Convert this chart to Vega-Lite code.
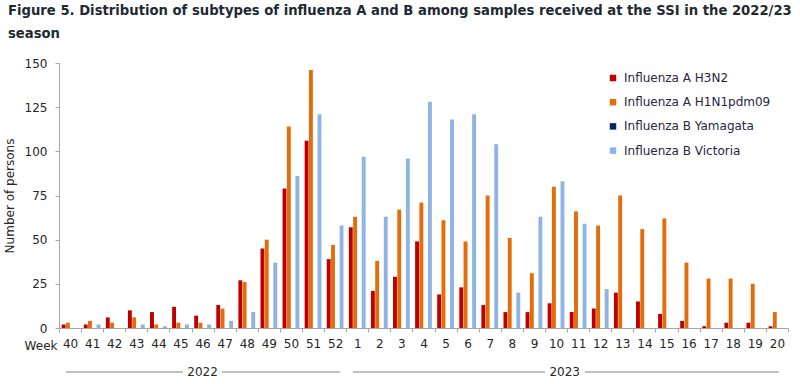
{
  "$schema": "https://vega.github.io/schema/vega-lite/v6.json",
  "width": 729,
  "height": 265,
  "autosize": {"type": "none"},
  "padding": {"left": 59, "top": 63, "right": 12, "bottom": 56},
  "background": "white",
  "title": {
    "text": ["Figure 5. Distribution of subtypes of influenza A and B among samples received at the SSI in the 2022/23", "season"],
    "anchor": "start",
    "frame": "group",
    "dx": -51,
    "font": "DejaVu Sans",
    "fontSize": 13.2,
    "fontWeight": "bold",
    "color": "#1f2a33",
    "lineHeight": 22.5,
    "offset": 16
  },
  "config": {
    "view": {"stroke": null},
    "font": "DejaVu Sans",
    "axis": {
      "labelFont": "DejaVu Sans",
      "titleFont": "DejaVu Sans",
      "labelFontSize": 12,
      "titleFontSize": 12,
      "labelColor": "#262626",
      "titleColor": "#262626",
      "titleFontWeight": "normal",
      "domainColor": "#a6a6a6",
      "tickColor": "#a6a6a6",
      "tickSize": 4,
      "grid": false
    },
    "legend": {
      "labelFont": "DejaVu Sans",
      "labelFontSize": 12,
      "labelColor": "#262640"
    }
  },
  "layer": [
    {
      "data": {"values": [
        {"week": "40", "Influenza A H3N2": 2, "Influenza A H1N1pdm09": 3, "Influenza B Yamagata": 0, "Influenza B Victoria": 0},
        {"week": "41", "Influenza A H3N2": 2, "Influenza A H1N1pdm09": 4, "Influenza B Yamagata": 0, "Influenza B Victoria": 2},
        {"week": "42", "Influenza A H3N2": 6, "Influenza A H1N1pdm09": 3, "Influenza B Yamagata": 0, "Influenza B Victoria": 0},
        {"week": "43", "Influenza A H3N2": 10, "Influenza A H1N1pdm09": 6, "Influenza B Yamagata": 0, "Influenza B Victoria": 2},
        {"week": "44", "Influenza A H3N2": 9, "Influenza A H1N1pdm09": 2, "Influenza B Yamagata": 0, "Influenza B Victoria": 1},
        {"week": "45", "Influenza A H3N2": 12, "Influenza A H1N1pdm09": 3, "Influenza B Yamagata": 0, "Influenza B Victoria": 2},
        {"week": "46", "Influenza A H3N2": 7, "Influenza A H1N1pdm09": 3, "Influenza B Yamagata": 0, "Influenza B Victoria": 2},
        {"week": "47", "Influenza A H3N2": 13, "Influenza A H1N1pdm09": 11, "Influenza B Yamagata": 0, "Influenza B Victoria": 4},
        {"week": "48", "Influenza A H3N2": 27, "Influenza A H1N1pdm09": 26, "Influenza B Yamagata": 0, "Influenza B Victoria": 9},
        {"week": "49", "Influenza A H3N2": 45, "Influenza A H1N1pdm09": 50, "Influenza B Yamagata": 0, "Influenza B Victoria": 37},
        {"week": "50", "Influenza A H3N2": 79, "Influenza A H1N1pdm09": 114, "Influenza B Yamagata": 0, "Influenza B Victoria": 86},
        {"week": "51", "Influenza A H3N2": 106, "Influenza A H1N1pdm09": 146, "Influenza B Yamagata": 0, "Influenza B Victoria": 121},
        {"week": "52", "Influenza A H3N2": 39, "Influenza A H1N1pdm09": 47, "Influenza B Yamagata": 0, "Influenza B Victoria": 58},
        {"week": "1", "Influenza A H3N2": 57, "Influenza A H1N1pdm09": 63, "Influenza B Yamagata": 0, "Influenza B Victoria": 97},
        {"week": "2", "Influenza A H3N2": 21, "Influenza A H1N1pdm09": 38, "Influenza B Yamagata": 0, "Influenza B Victoria": 63},
        {"week": "3", "Influenza A H3N2": 29, "Influenza A H1N1pdm09": 67, "Influenza B Yamagata": 0, "Influenza B Victoria": 96},
        {"week": "4", "Influenza A H3N2": 49, "Influenza A H1N1pdm09": 71, "Influenza B Yamagata": 0, "Influenza B Victoria": 128},
        {"week": "5", "Influenza A H3N2": 19, "Influenza A H1N1pdm09": 61, "Influenza B Yamagata": 0, "Influenza B Victoria": 118},
        {"week": "6", "Influenza A H3N2": 23, "Influenza A H1N1pdm09": 49, "Influenza B Yamagata": 0, "Influenza B Victoria": 121},
        {"week": "7", "Influenza A H3N2": 13, "Influenza A H1N1pdm09": 75, "Influenza B Yamagata": 0, "Influenza B Victoria": 104},
        {"week": "8", "Influenza A H3N2": 9, "Influenza A H1N1pdm09": 51, "Influenza B Yamagata": 0, "Influenza B Victoria": 20},
        {"week": "9", "Influenza A H3N2": 9, "Influenza A H1N1pdm09": 31, "Influenza B Yamagata": 0, "Influenza B Victoria": 63},
        {"week": "10", "Influenza A H3N2": 14, "Influenza A H1N1pdm09": 80, "Influenza B Yamagata": 0, "Influenza B Victoria": 83},
        {"week": "11", "Influenza A H3N2": 9, "Influenza A H1N1pdm09": 66, "Influenza B Yamagata": 0, "Influenza B Victoria": 59},
        {"week": "12", "Influenza A H3N2": 11, "Influenza A H1N1pdm09": 58, "Influenza B Yamagata": 0, "Influenza B Victoria": 22},
        {"week": "13", "Influenza A H3N2": 20, "Influenza A H1N1pdm09": 75, "Influenza B Yamagata": 0, "Influenza B Victoria": 0},
        {"week": "14", "Influenza A H3N2": 15, "Influenza A H1N1pdm09": 56, "Influenza B Yamagata": 0, "Influenza B Victoria": 0},
        {"week": "15", "Influenza A H3N2": 8, "Influenza A H1N1pdm09": 62, "Influenza B Yamagata": 0, "Influenza B Victoria": 0},
        {"week": "16", "Influenza A H3N2": 4, "Influenza A H1N1pdm09": 37, "Influenza B Yamagata": 0, "Influenza B Victoria": 0},
        {"week": "17", "Influenza A H3N2": 1, "Influenza A H1N1pdm09": 28, "Influenza B Yamagata": 0, "Influenza B Victoria": 0},
        {"week": "18", "Influenza A H3N2": 3, "Influenza A H1N1pdm09": 28, "Influenza B Yamagata": 0, "Influenza B Victoria": 0},
        {"week": "19", "Influenza A H3N2": 3, "Influenza A H1N1pdm09": 25, "Influenza B Yamagata": 0, "Influenza B Victoria": 0},
        {"week": "20", "Influenza A H3N2": 1, "Influenza A H1N1pdm09": 9, "Influenza B Yamagata": 0, "Influenza B Victoria": 0}
      ]},
      "transform": [
        {"fold": ["Influenza A H3N2", "Influenza A H1N1pdm09", "Influenza B Yamagata", "Influenza B Victoria"], "as": ["series", "value"]}
      ],
      "mark": {"type": "bar"},
      "encoding": {
        "x": {
          "field": "week", "type": "ordinal",
          "scale": {"domain": ["40","41","42","43","44","45","46","47","48","49","50","51","52","1","2","3","4","5","6","7","8","9","10","11","12","13","14","15","16","17","18","19","20"], "paddingInner": 0, "paddingOuter": 0},
          "axis": {
            "labelAngle": 0,
            "tickBand": "extent",
            "labelPadding": 6,
            "title": "Week",
            "titleAngle": 0,
            "titleAlign": "right",
            "titleBaseline": "middle",
            "titleX": -2,
            "titleY": 17
          }
        },
        "xOffset": {
          "field": "series", "type": "nominal",
          "scale": {"domain": ["Influenza A H3N2", "Influenza A H1N1pdm09", "Influenza B Yamagata", "Influenza B Victoria"], "paddingInner": 0.09, "paddingOuter": 0.62}
        },
        "y": {
          "field": "value", "type": "quantitative",
          "scale": {"domain": [0, 150], "nice": false},
          "axis": {
            "values": [0, 25, 50, 75, 100, 125, 150],
            "title": "Number of persons",
            "labelPadding": 8,
            "titlePadding": 8
          }
        },
        "color": {
          "field": "series", "type": "nominal",
          "scale": {
            "domain": ["Influenza A H3N2", "Influenza A H1N1pdm09", "Influenza B Yamagata", "Influenza B Victoria"],
            "range": ["#c00000", "#e46c0a", "#0b2460", "#8db4e2"]
          },
          "legend": {
            "title": null,
            "orient": "none",
            "legendX": 548,
            "legendY": 9,
            "symbolType": "square",
            "symbolSize": 42,
            "symbolStrokeWidth": 0,
            "labelOffset": 5,
            "rowPadding": 12.2,
            "padding": 0
          }
        }
      }
    },
    {
      "data": {"values": [{"from": "40", "to": "45"}]},
      "mark": {"type": "rule", "color": "#7f7f7f", "strokeWidth": 1, "xOffset": -4, "x2Offset": 2.5},
      "encoding": {
        "x": {"field": "from", "type": "ordinal", "scale": {"domain": ["40","41","42","43","44","45","46","47","48","49","50","51","52","1","2","3","4","5","6","7","8","9","10","11","12","13","14","15","16","17","18","19","20"]}},
        "x2": {"field": "to"},
        "y": {"datum": -24.9}
      }
    },
    {
      "data": {"values": [{"from": "47", "to": "52"}]},
      "mark": {"type": "rule", "color": "#7f7f7f", "strokeWidth": 1, "xOffset": -2.7, "x2Offset": 4.8},
      "encoding": {
        "x": {"field": "from", "type": "ordinal", "scale": {"domain": ["40","41","42","43","44","45","46","47","48","49","50","51","52","1","2","3","4","5","6","7","8","9","10","11","12","13","14","15","16","17","18","19","20"]}},
        "x2": {"field": "to"},
        "y": {"datum": -24.9}
      }
    },
    {
      "data": {"values": [{"from": "1", "to": "10"}]},
      "mark": {"type": "rule", "color": "#7f7f7f", "strokeWidth": 1, "xOffset": -4.3, "x2Offset": -11},
      "encoding": {
        "x": {"field": "from", "type": "ordinal", "scale": {"domain": ["40","41","42","43","44","45","46","47","48","49","50","51","52","1","2","3","4","5","6","7","8","9","10","11","12","13","14","15","16","17","18","19","20"]}},
        "x2": {"field": "to"},
        "y": {"datum": -24.9}
      }
    },
    {
      "data": {"values": [{"from": "11", "to": "20"}]},
      "mark": {"type": "rule", "color": "#7f7f7f", "strokeWidth": 1, "xOffset": 6.8, "x2Offset": 1.9},
      "encoding": {
        "x": {"field": "from", "type": "ordinal", "scale": {"domain": ["40","41","42","43","44","45","46","47","48","49","50","51","52","1","2","3","4","5","6","7","8","9","10","11","12","13","14","15","16","17","18","19","20"]}},
        "x2": {"field": "to"},
        "y": {"datum": -24.9}
      }
    },
    {
      "data": {"values": [{"week": "46", "label": "2022"}]},
      "mark": {"type": "text", "font": "DejaVu Sans", "fontSize": 12, "color": "#262626", "baseline": "middle", "align": "center", "dy": 0},
      "encoding": {
        "x": {"field": "week", "type": "ordinal", "scale": {"domain": ["40","41","42","43","44","45","46","47","48","49","50","51","52","1","2","3","4","5","6","7","8","9","10","11","12","13","14","15","16","17","18","19","20"]}},
        "y": {"datum": -24.9},
        "text": {"field": "label"}
      }
    },
    {
      "data": {"values": [{"week": "10", "label": "2023"}]},
      "mark": {"type": "text", "font": "DejaVu Sans", "fontSize": 12, "color": "#262626", "baseline": "middle", "align": "center", "dx": 8.6},
      "encoding": {
        "x": {"field": "week", "type": "ordinal", "scale": {"domain": ["40","41","42","43","44","45","46","47","48","49","50","51","52","1","2","3","4","5","6","7","8","9","10","11","12","13","14","15","16","17","18","19","20"]}},
        "y": {"datum": -24.9},
        "text": {"field": "label"}
      }
    }
  ]
}
